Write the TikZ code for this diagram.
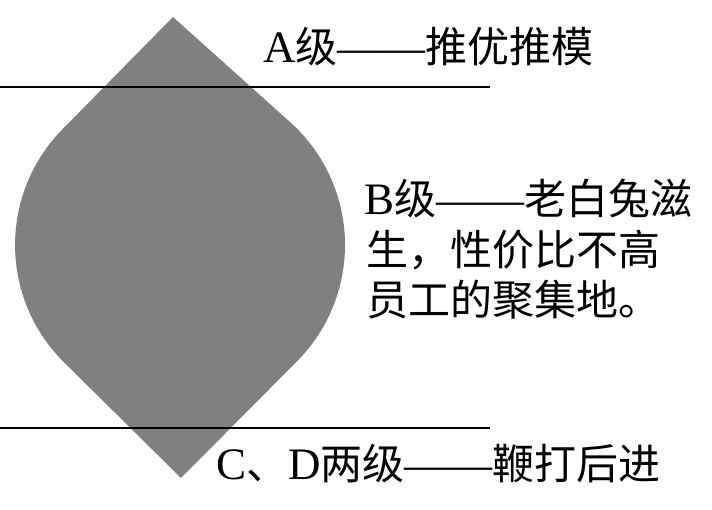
\documentclass[tikz,border=0pt]{standalone}
\usepackage{fontspec}
\setmainfont{Liberation Serif}
\newfontfamily\cjkfam{Noto Sans CJK SC}
\newcommand{\cj}[1]{{\fontsize{42}{50}\cjkfam #1}}
\begin{document}
\begin{tikzpicture}[x=1pt,y=1pt,
  lbl/.style={anchor=base west,inner sep=0pt,outer sep=0pt,font=\fontsize{45}{50}\selectfont},
  sep/.style={draw=black,line width=1.1pt}]
\definecolor{gray50}{HTML}{808080}
\useasboundingbox (0,0) rectangle (712,510);
% leaf shape (image y -> 510 - y)
\coordinate (top) at (173,493);
\coordinate (bot) at (181,32);
\coordinate (tr) at (290.2,387.8);
\coordinate (bl) at (64,147.7);
\fill[gray50] (top) -- (tr) arc[start angle=48.1,end angle=-44.8,radius=165]
  -- (bot) -- (bl) arc[start angle=-134.7,end angle=-224.6,radius=165] -- cycle;
% separator lines
\coordinate (l1a) at (0,423);
\coordinate (l1b) at (490,423);
\coordinate (l2a) at (0,82);
\coordinate (l2b) at (490,82);
\draw[sep] (l1a) -- (l1b);
\draw[sep] (l2a) -- (l2b);
% labels
\node[lbl] (a) at (263,447) {A\cj{级}{\fontsize{44}{50}\selectfont ——}\cj{推优推模}};
\node[lbl] (b1) at (364,295) {B\cj{级}{\fontsize{44}{50}\selectfont ——}\cj{老白兔滋}};
\node[lbl] (b2) at (366,244) {\cj{生，性价比不高}};
\node[lbl] (b3) at (366,194) {\cj{员工的聚集地。}};
\node[lbl] (c) at (216,30) {C\cj{、}D\cj{两级}{\fontsize{44}{50}\selectfont ——}\cj{鞭打后进}};
\end{tikzpicture}
\end{document}
